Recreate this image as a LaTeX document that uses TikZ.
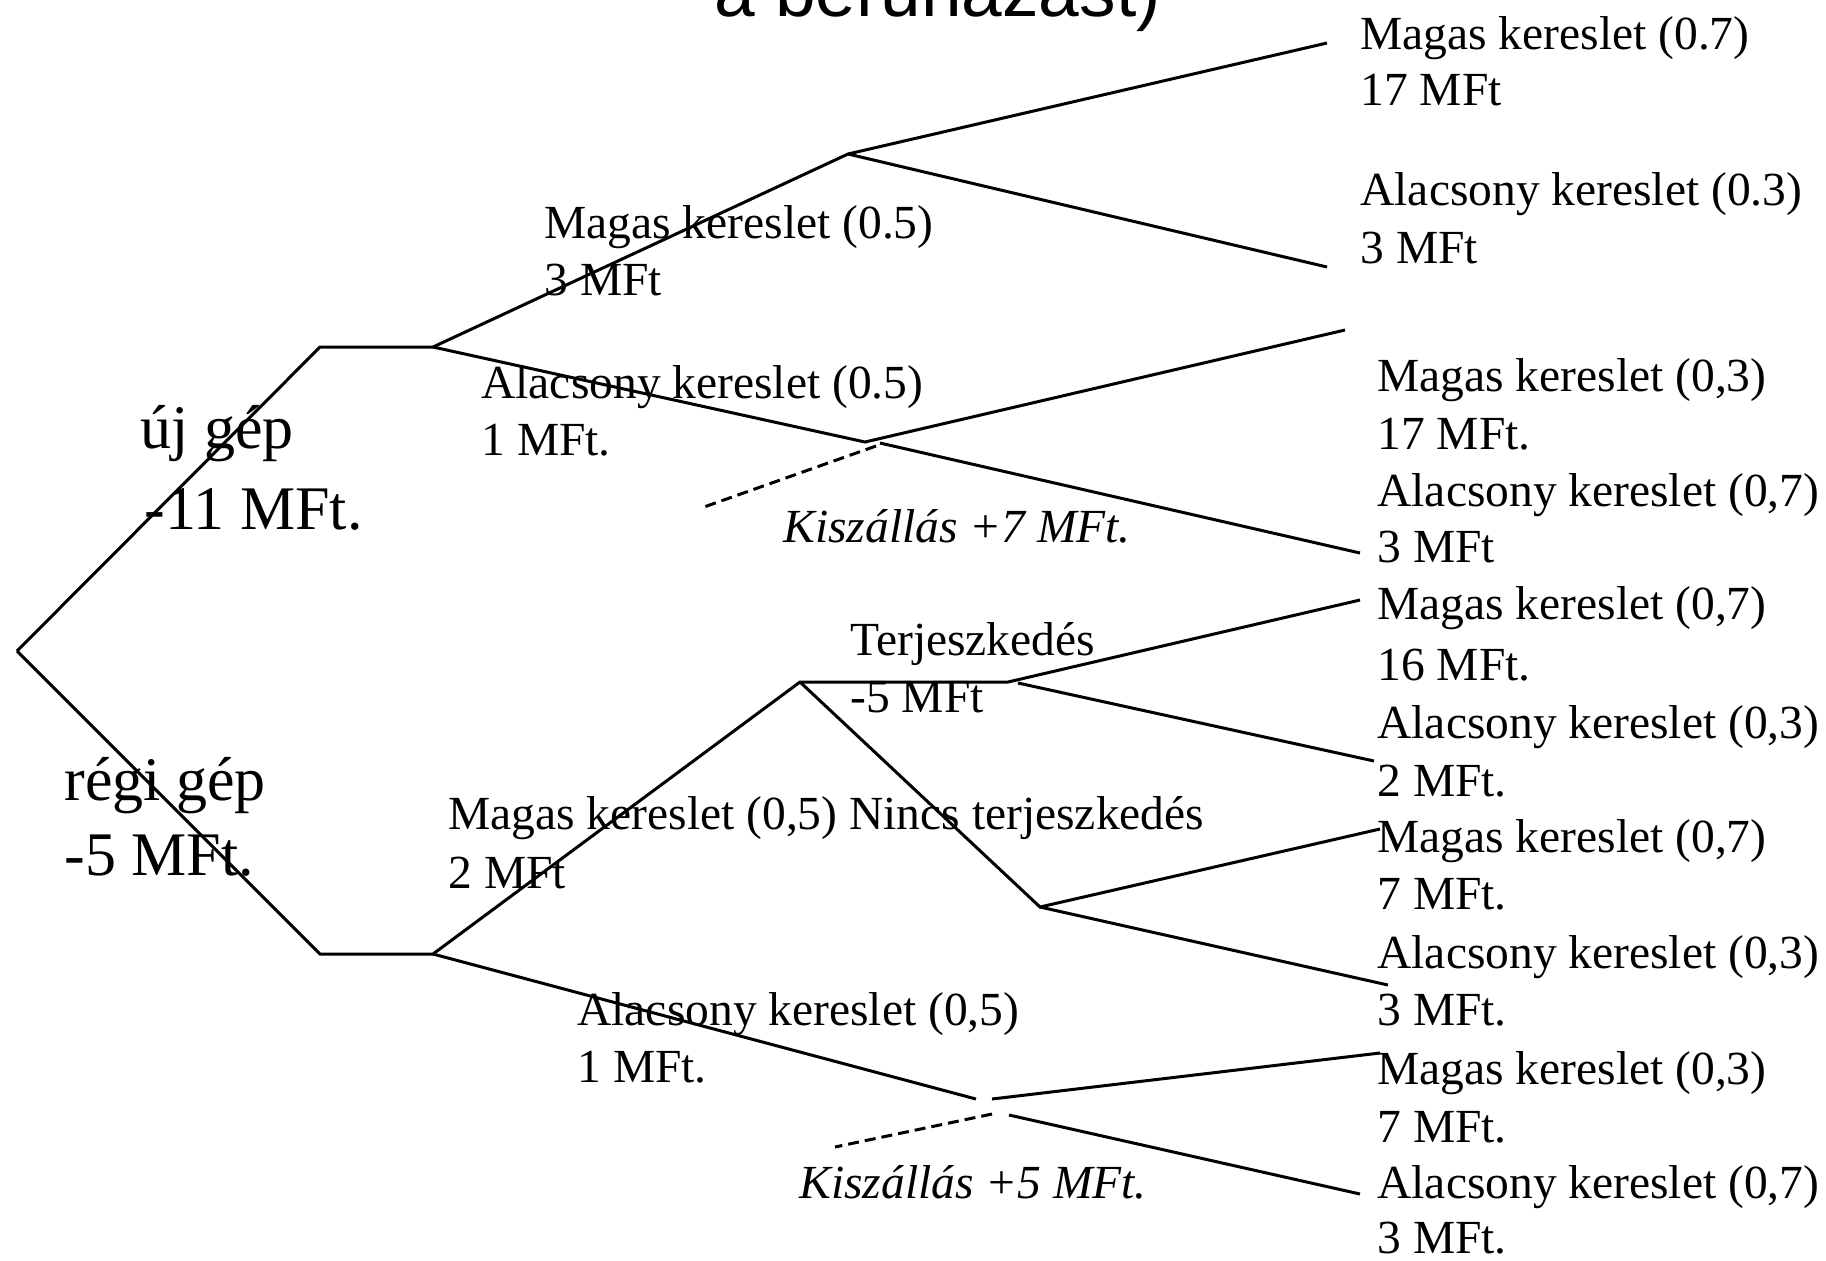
\documentclass[tikz,border=0pt]{standalone}
\usepackage{fontspec}
\setmainfont{Liberation Serif}
\newfontfamily\headfont{Liberation Sans}
\begin{document}
\begin{tikzpicture}[x=0.5pt,y=-0.5pt,
  branch/.style={line width=1.5pt, line join=miter},
  exitline/.style={line width=1.5pt, dash pattern=on 5.5pt off 3pt},
  lbl/.style={anchor=base west, inner sep=0pt, font=\fontsize{23.75}{28.5}\selectfont},
  exitlbl/.style={anchor=base west, inner sep=0pt, font=\fontsize{23.75}{28.5}\selectfont\itshape},
  big/.style={anchor=base west, inner sep=0pt, font=\fontsize{31}{37}\selectfont},
  head/.style={anchor=base west, inner sep=0pt, font=\headfont\fontsize{36.5}{44}\selectfont},
]
\useasboundingbox (0,0) rectangle (1826,1260);
\clip (0,0) rectangle (1826,1260);

% heading (only its lower part falls inside the page)
\node[head] (title) at (714,16) {a beruházást)};

% decision and chance points
\coordinate (root) at (17,651);
\coordinate (ua) at (320,347);
\coordinate (ub) at (433,347);
\coordinate (uc) at (848,154);
\coordinate (ut1) at (1327,43);
\coordinate (ut2) at (1327,267);
\coordinate (ud) at (865,442);
\coordinate (ud2) at (880,443);
\coordinate (ue) at (876,446);
\coordinate (ut3) at (1345,330);
\coordinate (ut4) at (1360,553);
\coordinate (ux) at (704,507);

\coordinate (la) at (320,954);
\coordinate (lb) at (433,954);
\coordinate (lc) at (800,682);
\coordinate (ld) at (1008,682);
\coordinate (ld2) at (1018,683);
\coordinate (lt1) at (1360,600);
\coordinate (lt2) at (1374,761);
\coordinate (le) at (1040,907);
\coordinate (lt3) at (1380,829);
\coordinate (lt4) at (1388,985);
\coordinate (lf) at (976,1099);
\coordinate (lg) at (992,1099);
\coordinate (lh) at (1009,1115);
\coordinate (lt5) at (1380,1053);
\coordinate (lt6) at (1360,1194);
\coordinate (lx0) at (992,1114);
\coordinate (lx) at (835,1147);

% new machine branch
\draw[branch] (root) -- (ua) -- (ub) -- (uc) -- (ut1);
\draw[branch] (uc) -- (ut2);
\draw[branch] (ub) -- (ud) -- (ut3);
\draw[branch] (ud2) -- (ut4);
\draw[exitline] (ue) -- (ux);

% old machine branch
\draw[branch] (root) -- (la) -- (lb) -- (lc) -- (ld) -- (lt1);
\draw[branch] (ld2) -- (lt2);
\draw[branch] (lc) -- (le) -- (lt3);
\draw[branch] (le) -- (lt4);
\draw[branch] (lb) -- (lf);
\draw[branch] (lg) -- (lt5);
\draw[branch] (lh) -- (lt6);
\draw[exitline] (lx0) -- (lx);

% first decision
\node[big] (b1a) at (140,448) {új gép};
\node[big] (b1b) at (144,529) {-11 MFt.};
\node[big] (b2a) at (64,800) {régi gép};
\node[big] (b2b) at (64,875) {-5 MFt.};

% first-year demand
\node[lbl] (m1a) at (544,238) {Magas kereslet (0.5)};
\node[lbl] (m1b) at (544,295) {3 MFt};
\node[lbl] (m2a) at (481,398) {Alacsony kereslet (0.5)};
\node[lbl] (m2b) at (481,455) {1 MFt.};
\node[lbl] (m3a) at (448,829) {Magas kereslet (0,5)};
\node[lbl] (m3b) at (448,888) {2 MFt};
\node[lbl] (m4a) at (577,1025) {Alacsony kereslet (0,5)};
\node[lbl] (m4b) at (577,1082) {1 MFt.};

% second decision
\node[exitlbl] (k1) at (783,542) {Kiszállás +7 MFt.};
\node[exitlbl] (k2) at (799,1198) {Kiszállás +5 MFt.};
\node[lbl] (t1a) at (850,655) {Terjeszkedés};
\node[lbl] (t1b) at (850,712) {-5 MFt};
\node[lbl] (n1) at (849,829) {Nincs terjeszkedés};

% second-year outcomes
\node[lbl] (r1a) at (1360,49) {Magas kereslet (0.7)};
\node[lbl] (r1b) at (1360,105) {17 MFt};
\node[lbl] (r2a) at (1360,205) {Alacsony kereslet (0.3)};
\node[lbl] (r2b) at (1360,263) {3 MFt};
\node[lbl] (r3a) at (1377,391) {Magas kereslet (0,3)};
\node[lbl] (r3b) at (1377,449) {17 MFt.};
\node[lbl] (r4a) at (1377,506) {Alacsony kereslet (0,7)};
\node[lbl] (r4b) at (1377,562) {3 MFt};
\node[lbl] (r5a) at (1377,619) {Magas kereslet (0,7)};
\node[lbl] (r5b) at (1377,680) {16 MFt.};
\node[lbl] (r6a) at (1377,738) {Alacsony kereslet (0,3)};
\node[lbl] (r6b) at (1377,796) {2 MFt.};
\node[lbl] (r7a) at (1377,852) {Magas kereslet (0,7)};
\node[lbl] (r7b) at (1377,909) {7 MFt.};
\node[lbl] (r8a) at (1377,968) {Alacsony kereslet (0,3)};
\node[lbl] (r8b) at (1377,1025) {3 MFt.};
\node[lbl] (r9a) at (1377,1084) {Magas kereslet (0,3)};
\node[lbl] (r9b) at (1377,1142) {7 MFt.};
\node[lbl] (r10a) at (1377,1198) {Alacsony kereslet (0,7)};
\node[lbl] (r10b) at (1377,1253) {3 MFt.};
\end{tikzpicture}
\end{document}
